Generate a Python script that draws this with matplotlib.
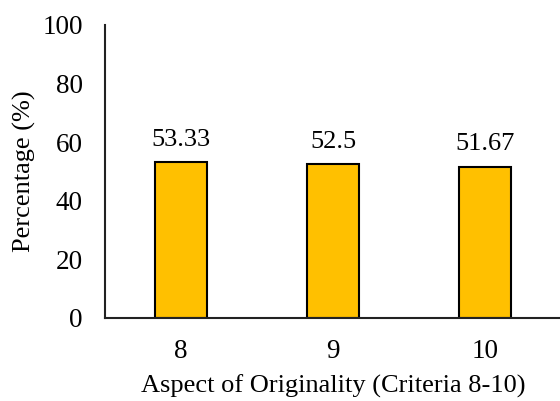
import matplotlib.pyplot as plt

plt.rcParams['font.family'] = ['Liberation Serif', 'DejaVu Serif']

criteria = ['8', '9', '10']
percentages = [53.33, 52.5, 51.67]
value_labels = ['53.33', '52.5', '51.67']

fig = plt.figure(figsize=(5.6, 4.01), dpi=100)
ax = fig.add_axes([0.1875, 0.207, 0.815, 0.731])

x = range(len(criteria))
bars = ax.bar(x, percentages, width=0.34, color='#FFC000',
              edgecolor='black', linewidth=1.5)

for bar, txt in zip(bars, value_labels):
    ax.annotate(txt, (bar.get_x() + bar.get_width() / 2, bar.get_height()),
                xytext=(0, 8), textcoords='offset points',
                ha='center', va='bottom', fontsize=19)

ax.set_xlim(-0.5, 2.5)
ax.set_ylim(0, 100)
ax.set_yticks(range(0, 101, 20))
ax.set_xticks(list(x))
ax.set_xticklabels(criteria)
ax.tick_params(axis='both', length=0, labelsize=19.5)
ax.tick_params(axis='x', pad=15)
ax.tick_params(axis='y', pad=16)

for side in ['top', 'right']:
    ax.spines[side].set_visible(False)
for side in ['left', 'bottom']:
    ax.spines[side].set_linewidth(1.5)
    ax.spines[side].set_color('#222222')

ax.set_ylabel('Percentage (%)', fontsize=19, labelpad=4.5)
ax.set_xlabel('Aspect of Originality (Criteria 8-10)', fontsize=19, labelpad=8)

fig.savefig('out.png', dpi=100)
